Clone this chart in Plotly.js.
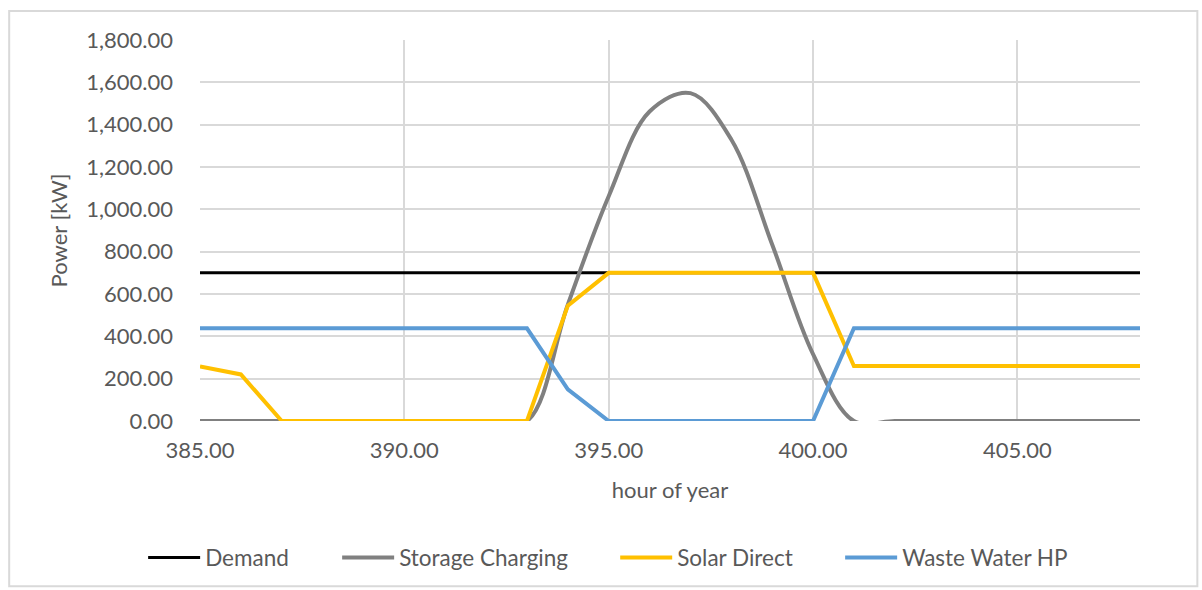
<!DOCTYPE html>
<html><head><meta charset="utf-8">
<script src="https://cdn.plot.ly/plotly-3.0.1.min.js"></script>
<style>html,body{margin:0;padding:0;background:#fff;}#chart{width:1202px;height:590px;}</style>
</head><body><div id="chart"></div>
<script>
const hours = [385,386,387,388,389,390,391,392,393,394,395,396,397,398,399,400,401,402,403,404,405,406,407,408];
const demand = [700,700,700,700,700,700,700,700,700,700,700,700,700,700,700,700,700,700,700,700,700,700,700,700];
const storageCharging = [0,0,0,0,0,0,0,0,0,550,1062,1462,1549,1330,834,316,0,0,0,0,0,0,0,0];
const solarDirect = [258,220,0,0,0,0,0,0,0,545,700,700,700,700,700,700,260,260,260,260,260,260,260,260];
const wasteWaterHP = [438,438,438,438,438,438,438,438,438,150,0,0,0,0,0,0,438,438,438,438,438,438,438,438];
const seriesNames = ["Demand","Storage Charging","Solar Direct","Waste Water HP"];
const colors = ["#000000","#808080","#FFC000","#5B9BD5"];

const traces = [
  {x: hours, y: demand, name: seriesNames[0], legend: "legend", mode: "lines", line: {color: colors[0], width: 3}},
  {x: hours, y: storageCharging, name: seriesNames[1], legend: "legend2", mode: "lines", line: {color: colors[1], width: 4, shape: "spline", smoothing: 1}},
  {x: hours, y: solarDirect, name: seriesNames[2], legend: "legend3", mode: "lines", line: {color: colors[2], width: 4}},
  {x: hours, y: wasteWaterHP, name: seriesNames[3], legend: "legend4", mode: "lines", line: {color: colors[3], width: 4}}
];
const FONT = "Lato, 'Open Sans', sans-serif";
const tickFont = {family: FONT, size: 22, color: "#595959"};
function leg(x) {
  return {orientation: "h", x: x, xanchor: "left", y: -0.356, yanchor: "middle", itemwidth: 52,
    font: {family: FONT, size: 22.5, color: "#595959"}, bgcolor: "rgba(0,0,0,0)"};
}
const layout = {
  width: 1202, height: 590,
  margin: {l: 200, r: 62, t: 40, b: 168},
  paper_bgcolor: "#fff", plot_bgcolor: "#fff",
  showlegend: true,
  legend: leg(-0.0605),
  legend2: leg(0.1459),
  legend3: leg(0.4417),
  legend4: leg(0.6810),
  xaxis: {range: [385, 408], tickvals: [385,390,395,400,405], tickformat: ",.2f",
    showgrid: true, gridcolor: "#d9d9d9", gridwidth: 2, zeroline: false, showline: false,
    ticks: "", tickfont: tickFont, ticklabelstandoff: 14,
    title: {text: "hour of year", font: {family: FONT, size: 22, color: "#595959"}, standoff: 20}},
  yaxis: {range: [0, 1800], dtick: 200, tickformat: ",.2f",
    showgrid: true, gridcolor: "#d9d9d9", gridwidth: 2, zeroline: false, showline: false,
    ticks: "", tickfont: tickFont, ticklabelstandoff: 26,
    title: {text: "Power [kW]", font: {family: FONT, size: 22, color: "#595959"}, standoff: 12}},
  shapes: [{type: "rect", xref: "paper", yref: "paper", x0: -0.203, x1: 1.061, y0: -0.434, y1: 1.076,
    line: {color: "#d9d9d9", width: 2}, fillcolor: "rgba(0,0,0,0)", layer: "below"}]
};
Plotly.newPlot("chart", traces, layout, {displayModeBar: false, staticPlot: true});
</script></body></html>
